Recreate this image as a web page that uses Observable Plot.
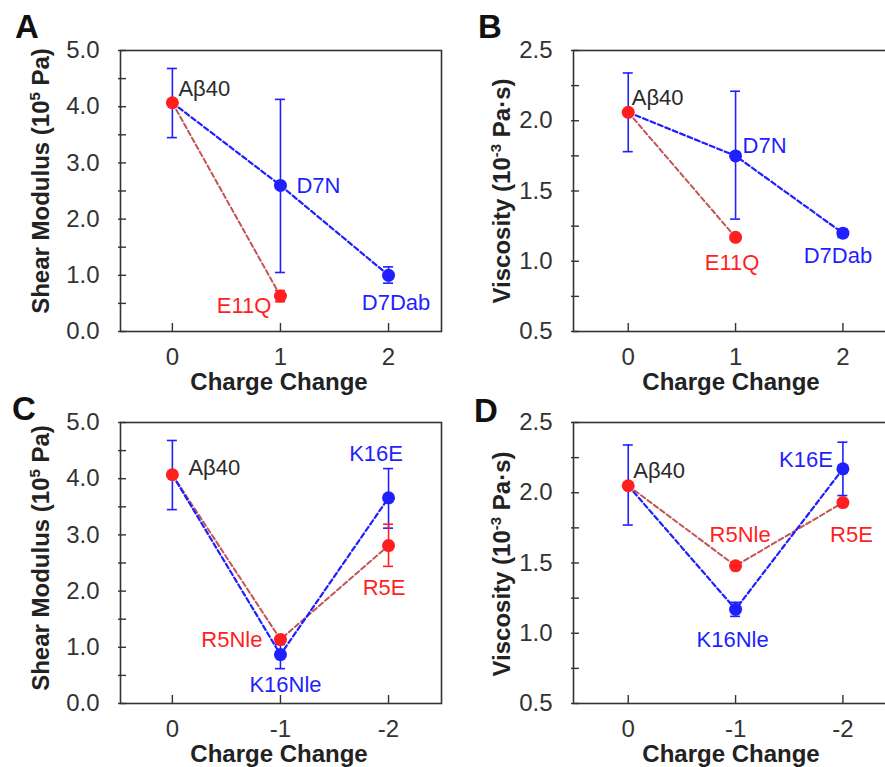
<!DOCTYPE html>
<html><head><meta charset="utf-8">
<script src="https://cdn.jsdelivr.net/npm/d3@7"></script>
<script src="https://cdn.jsdelivr.net/npm/@observablehq/plot@0.6"></script>
<style>
html,body{margin:0;padding:0;background:#fff;}
#fig{position:relative;width:885px;height:767px;overflow:hidden;background:#fff;}
#fig svg{position:absolute;background:transparent;overflow:visible;}
</style></head><body><div id="fig"></div>
<script>
// ---------- DATA ----------
// Panel A: Shear modulus (10^5 Pa) vs charge change
const labelsA = ["Aβ40", "D7N", "D7Dab", "E11Q"];
const chargeA = [0, 1, 2, 1];
const seriesA = ["ref", "blue", "blue", "red"];
const shearA   = [4.07, 2.60, 1.00, 0.63];
const shearLoA = [3.45, 1.05, 0.86, 0.53];
const shearHiA = [4.68, 4.13, 1.15, 0.73];

// Panel B: Viscosity (10^-3 Pa·s) vs charge change
const labelsB = ["Aβ40", "D7N", "D7Dab", "E11Q"];
const chargeB = [0, 1, 2, 1];
const seriesB = ["ref", "blue", "blue", "red"];
const viscB   = [2.06, 1.75, 1.20, 1.17];
const viscLoB = [1.78, 1.30, 1.17, 1.15];
const viscHiB = [2.34, 2.21, 1.23, 1.19];

// Panel C: Shear modulus vs negative charge change
const labelsC = ["Aβ40", "R5Nle", "R5E", "K16Nle", "K16E"];
const chargeC = [0, -1, -2, -1, -2];
const seriesC = ["ref", "red", "red", "blue", "blue"];
const shearC   = [4.07, 1.14, 2.81, 0.87, 3.66];
const shearLoC = [3.45, 1.14, 2.44, 0.62, 3.12];
const shearHiC = [4.68, 1.14, 3.19, 1.05, 4.18];

// Panel D: Viscosity vs negative charge change
const labelsD = ["Aβ40", "R5Nle", "R5E", "K16Nle", "K16E"];
const chargeD = [0, -1, -2, -1, -2];
const seriesD = ["ref", "red", "red", "blue", "blue"];
const viscD   = [2.05, 1.48, 1.93, 1.17, 2.17];
const viscLoD = [1.77, 1.48, 1.93, 1.12, 1.98];
const viscHiD = [2.34, 1.48, 1.93, 1.22, 2.36];

const xTicksPos = [0, 1, 2];
const xTicksNeg = [0, -1, -2];
const shearMajor = [0, 1, 2, 3, 4, 5];
const viscMajor = [0.5, 1.0, 1.5, 2.0, 2.5];

// ---------- LAYOUT / STYLE ----------
const FONT = '"Liberation Sans", Arial, Helvetica, sans-serif';
const H = 395, MT = 50, MB = 64;
const BLUE = "#1f1fff", RED = "#ff1f1f", RED_LINE = "#c25555", DARK = "#2a2a2a";

const labelLayout = {
  A: {"Aβ40": [6, -14, "start"], "D7N": [16, 1, "start"], "E11Q": [-9, 10, "end"], "D7Dab": [7.5, 28, "middle"]},
  B: {"Aβ40": [3.5, -14, "start"], "D7N": [7, -10, "start"], "E11Q": [-3.5, 26, "middle"], "D7Dab": [-5, 23, "middle"]},
  C: {"Aβ40": [16, -7, "start"], "K16E": [-12.5, -44, "middle"], "R5E": [-4.5, 42, "middle"], "R5Nle": [-18, 1, "end"], "K16Nle": [5, 30, "middle"]},
  D: {"Aβ40": [5, -15, "start"], "K16E": [-10, -9, "end"], "R5E": [8.5, 32, "middle"], "R5Nle": [4.5, -31, "middle"], "K16Nle": [-3, 31, "middle"]}
};

const panels = [
  {key: "A", labels: labelsA, charge: chargeA, series: seriesA, value: shearA, lo: shearLoA, hi: shearHiA,
   xTicks: xTicksPos, xDomain: [-0.48, 2.49], yDomain: [0, 5], yMajor: shearMajor, minorStep: 0.5,
   yTitle: ["Shear Modulus (10", "5", " Pa)"], left: 0, top: 0, width: 445, marginLeft: 120, marginRight: 4,
   yTitlePos: [49, 181], xTitleX: 279, letterPos: [15, 38]},
  {key: "B", labels: labelsB, charge: chargeB, series: seriesB, value: viscB, lo: viscLoB, hi: viscHiB,
   xTicks: xTicksPos, xDomain: [-0.51, 2.49], yDomain: [0.5, 2.5], yMajor: viscMajor, minorStep: 0.25,
   yTitle: ["Viscosity (10", "-3", " Pa·s)"], left: 440, top: 0, width: 460, marginLeft: 133, marginRight: 5,
   yTitlePos: [70, 191], xTitleX: 291, letterPos: [38, 38]},
  {key: "C", labels: labelsC, charge: chargeC, series: seriesC, value: shearC, lo: shearLoC, hi: shearHiC,
   xTicks: xTicksNeg, xDomain: [0.48, -2.49], yDomain: [0, 5], yMajor: shearMajor, minorStep: 0.5,
   yTitle: ["Shear Modulus (10", "5", " Pa)"], left: 0, top: 372, width: 445, marginLeft: 120, marginRight: 4,
   yTitlePos: [49, 186], xTitleX: 279, letterPos: [12, 48]},
  {key: "D", labels: labelsD, charge: chargeD, series: seriesD, value: viscD, lo: viscLoD, hi: viscHiD,
   xTicks: xTicksNeg, xDomain: [0.51, -2.49], yDomain: [0.5, 2.5], yMajor: viscMajor, minorStep: 0.25,
   yTitle: ["Viscosity (10", "-3", " Pa·s)"], left: 440, top: 372, width: 460, marginLeft: 133, marginRight: 5,
   yTitlePos: [70, 192], xTitleX: 291, letterPos: [34, 50]}
];

function errMarks(data, color, cap) {
  return [
    Plot.ruleX(data, {x: "charge", y1: "lo", y2: "hi", stroke: color, strokeWidth: 1.6}),
    Plot.ruleY(data, {y: "hi", x1: d => d.charge - cap, x2: d => d.charge + cap, stroke: color, strokeWidth: 1.6}),
    Plot.ruleY(data, {y: "lo", x1: d => d.charge - cap, x2: d => d.charge + cap, stroke: color, strokeWidth: 1.6})
  ];
}

function makePanel(p) {
  const rows = p.labels.map((label, i) => ({label, charge: p.charge[i], series: p.series[i], value: p.value[i], lo: p.lo[i], hi: p.hi[i]}));
  const plotW = p.width - p.marginLeft - p.marginRight;
  const plotH = H - MT - MB;
  const pxPerX = plotW / Math.abs(p.xDomain[1] - p.xDomain[0]);
  const cap = 5 / pxPerX;
  const blueLine = rows.filter(d => d.series !== "red");
  const redLine = rows.filter(d => d.series !== "blue");
  const errBlue = rows.filter(d => d.series !== "red");
  const errRed = rows.filter(d => d.series === "red");
  const dotBlue = rows.filter(d => d.series === "blue");
  const dotRed = rows.filter(d => d.series !== "blue");
  const minor = d3.range(p.yDomain[0], p.yDomain[1] + 1e-9, p.minorStep);

  const textMarks = rows.map(d => {
    const [dx, dy, anchor] = labelLayout[p.key][d.label];
    const fill = d.series === "ref" ? DARK : d.series === "red" ? RED : BLUE;
    return Plot.text([d], {x: "charge", y: "value", text: "label", dx, dy, textAnchor: anchor, fill, fontSize: 22});
  });

  const svg = Plot.plot({
    width: p.width, height: H,
    marginLeft: p.marginLeft, marginRight: p.marginRight, marginTop: MT, marginBottom: MB,
    style: {fontFamily: FONT, color: "#333", background: "transparent", overflow: "visible"},
    x: {domain: p.xDomain, label: null},
    y: {domain: p.yDomain, label: null},
    marks: [
      Plot.tickY(minor, {y: d => d, insetLeft: -2, insetRight: plotW - 6, stroke: "#333", strokeWidth: 1.4}),
      Plot.tickX(p.xTicks, {x: d => d, insetTop: plotH - 8, stroke: "#333", strokeWidth: 1.4}),
      Plot.axisY({ticks: p.yMajor, tickSize: 0, tickPadding: 21, tickFormat: d => d.toFixed(1), fontSize: 24, label: null}),
      Plot.axisX({ticks: p.xTicks, tickSize: 0, tickPadding: 16, tickFormat: d => String(d), fontSize: 24, label: null}),
      ...errMarks(errBlue, BLUE, cap),
      ...errMarks(errRed, RED, cap),
      Plot.line(redLine, {x: "charge", y: "value", stroke: RED_LINE, strokeWidth: 2, strokeDasharray: "5,3"}),
      Plot.line(blueLine, {x: "charge", y: "value", stroke: BLUE, strokeWidth: 2.2, strokeDasharray: "5,3"}),
      Plot.dot(dotBlue, {x: "charge", y: "value", r: 6.5, fill: BLUE, stroke: null}),
      Plot.dot(dotRed, {x: "charge", y: "value", r: 6.5, fill: RED, stroke: null}),
      ...textMarks,
      Plot.frame({stroke: "#333", strokeWidth: 1.6})
    ]
  });
  svg.style.left = p.left + "px";
  svg.style.top = p.top + "px";
  const s = d3.select(svg);
  // y-axis title with superscript
  const yt = s.append("text")
    .attr("transform", `translate(${p.yTitlePos[0]},${p.yTitlePos[1]}) rotate(-90)`)
    .attr("text-anchor", "middle").attr("font-family", FONT).attr("font-size", 24)
    .attr("font-weight", "bold").attr("fill", "#222");
  yt.append("tspan").text(p.yTitle[0]);
  yt.append("tspan").attr("dy", -9).attr("font-size", 15).text(p.yTitle[1]);
  yt.append("tspan").attr("dy", 9).text(p.yTitle[2]);
  // x-axis title
  s.append("text").attr("x", p.xTitleX).attr("y", 390)
    .attr("text-anchor", "middle").attr("font-family", FONT).attr("font-size", 24)
    .attr("font-weight", "bold").attr("fill", "#222").text("Charge Change");
  // panel letter
  s.append("text").attr("x", p.letterPos[0]).attr("y", p.letterPos[1])
    .attr("text-anchor", "start")
    .attr("font-family", FONT).attr("font-size", 33).attr("font-weight", "bold")
    .attr("fill", "#111").text(p.key);
  return svg;
}

const fig = document.getElementById("fig");
panels.forEach(p => fig.appendChild(makePanel(p)));
</script></body></html>
